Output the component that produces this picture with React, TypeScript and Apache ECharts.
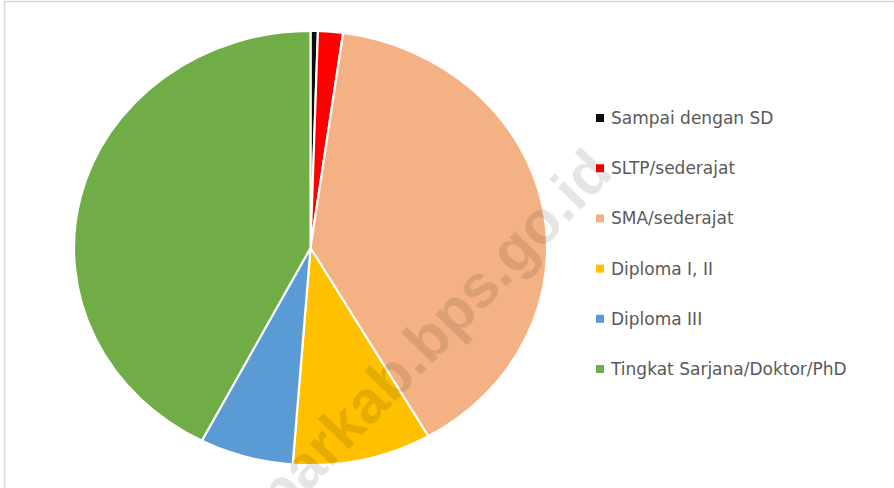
import React, { useEffect, useRef } from "react";
import * as echarts from "echarts";

const categories = [
  "Sampai dengan SD",
  "SLTP/sederajat",
  "SMA/sederajat",
  "Diploma I, II",
  "Diploma III",
  "Tingkat Sarjana/Doktor/PhD",
];
const values = [0.5, 1.7, 39.5, 9.5, 6.4, 42.4];
const colors = ["#0d0d0d", "#ff0000", "#f4b183", "#ffc000", "#5b9bd5", "#70ad47"];
const watermark = "kamparkab.bps.go.id";

const W = 894;
const H = 488;
const CX = 310.5;
const CY = 248;
const RY = 217;
const RX = 236.5;

export default function App() {
  const pieRef = useRef<HTMLDivElement>(null);
  const legRef = useRef<HTMLDivElement>(null);

  useEffect(() => {
    const data = categories.map((name, i) => ({ name, value: values[i] }));
    const pie = echarts.init(pieRef.current!, undefined, { renderer: "svg" });
    pie.setOption({
      animation: false,
      color: colors,
      series: [
        {
          type: "pie",
          center: [CX, CY],
          radius: [0, RY],
          startAngle: 90,
          clockwise: true,
          label: { show: false },
          labelLine: { show: false },
          silent: true,
          itemStyle: { borderColor: "#ffffff", borderWidth: 2 },
          data,
        },
      ],
    });

    const leg = echarts.init(legRef.current!, undefined, { renderer: "svg" });
    leg.setOption({
      animation: false,
      color: colors,
      legend: {
        orient: "vertical",
        left: 591,
        top: 103,
        icon: "rect",
        itemWidth: 8,
        itemHeight: 8,
        itemGap: 30.2,
        selectedMode: false,
        data: categories,
        textStyle: {
          fontFamily: "DejaVu Sans",
          fontSize: 17,
          color: "#595959",
          lineHeight: 20,
          padding: [0, 0, 0, 2],
        },
      },
      graphic: [
        {
          type: "rect",
          shape: { x: 4.5, y: 1.5, width: 1200, height: 1200 },
          style: { fill: "none", stroke: "#d9d9d9", lineWidth: 1.5 },
          silent: true,
        },
        {
          type: "text",
          x: 600,
          y: 160,
          rotation: (46 * Math.PI) / 180,
          style: {
            text: watermark,
            fontFamily: "Liberation Sans",
            fontWeight: "bold",
            fontSize: 60,
            fill: "rgba(0,0,0,0.1)",
            textAlign: "right",
            textVerticalAlign: "middle",
          },
          silent: true,
          z: 100,
        },
      ],
      series: [
        {
          type: "pie",
          radius: [0, 0],
          center: [-100, -100],
          silent: true,
          label: { show: false },
          labelLine: { show: false },
          data,
        },
      ],
    });

    return () => {
      pie.dispose();
      leg.dispose();
    };
  }, []);

  return (
    <div
      style={{
        position: "fixed",
        left: 0,
        top: 0,
        width: W,
        height: H,
        background: "#ffffff",
        overflow: "hidden",
      }}
    >
      <div
        ref={pieRef}
        style={{
          position: "absolute",
          left: 0,
          top: 0,
          width: W,
          height: H,
          transform: `scaleX(${RX / RY})`,
          transformOrigin: `${CX}px ${CY}px`,
        }}
      />
      <div
        ref={legRef}
        style={{ position: "absolute", left: 0, top: 0, width: W, height: H }}
      />
    </div>
  );
}
